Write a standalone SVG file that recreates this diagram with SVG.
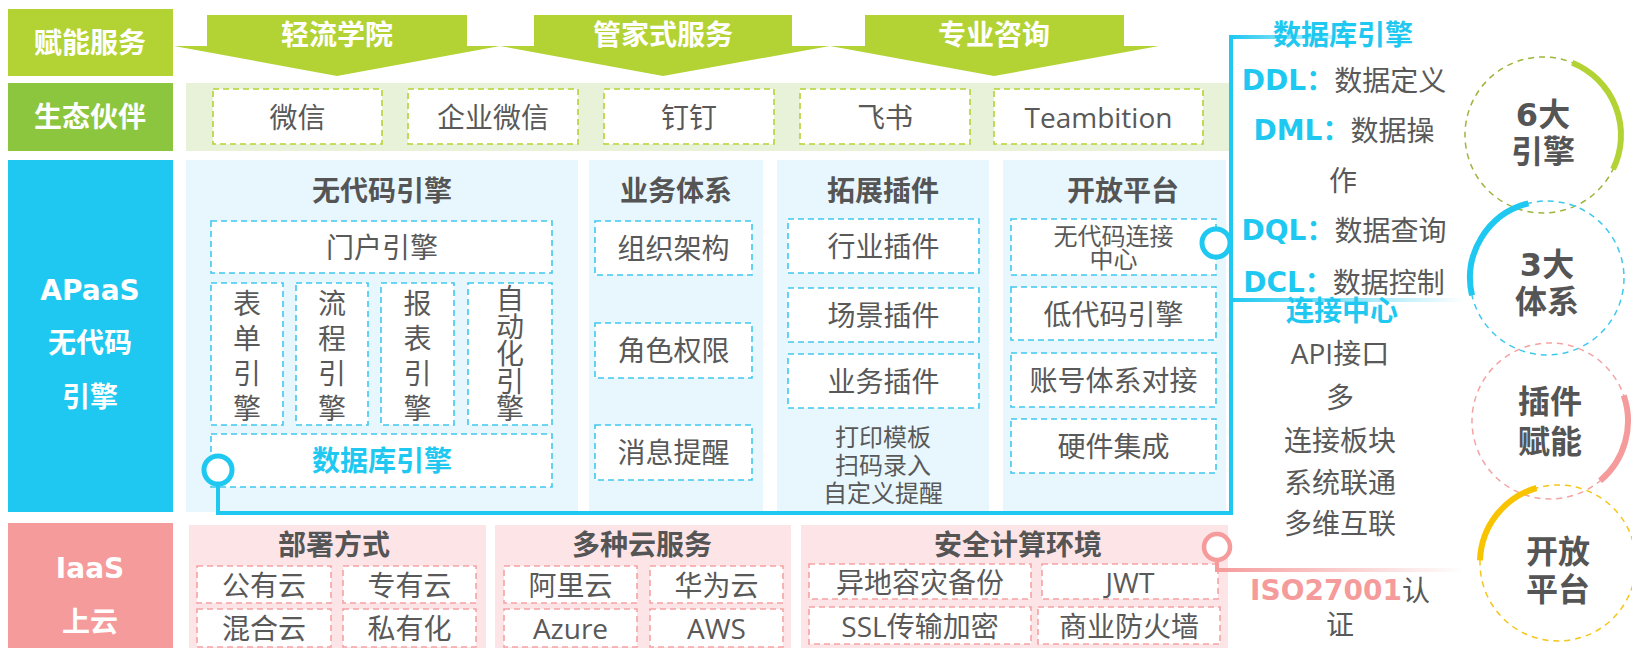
<svg xmlns="http://www.w3.org/2000/svg" width="1632" height="648" viewBox="0 0 1632 648">
<style>
text{dominant-baseline:central;text-anchor:middle}
.wl{font-family:"DejaVu Sans","Noto Sans CJK SC",sans-serif;font-weight:bold;font-size:28px;fill:#fff}
.ttl{font-family:"DejaVu Sans","Noto Sans CJK SC",sans-serif;font-weight:bold;font-size:28px;fill:#555}
.t{font-family:"Open Sans","Noto Sans CJK SC",sans-serif;font-size:28px;fill:#595959}
.s{font-family:"Open Sans","Noto Sans CJK SC",sans-serif;font-size:24px;fill:#595959}
.cb{font-family:"DejaVu Sans","Noto Sans CJK SC",sans-serif;font-weight:bold;font-size:28px;fill:#1ec8f0}
.pb{font-family:"DejaVu Sans","Noto Sans CJK SC",sans-serif;font-weight:bold;fill:#f59b9b}
.big{font-family:"DejaVu Sans","Noto Sans CJK SC",sans-serif;font-weight:bold;font-size:32px;fill:#555}
.gbox{fill:#fff;stroke:#b5d334;stroke-width:1.6;stroke-dasharray:6 4}
.bbox{fill:#fff;stroke:#3fc8ee;stroke-width:1.6;stroke-dasharray:6 4}
.rbox{fill:#fff;stroke:#f5a3a3;stroke-width:1.6;stroke-dasharray:6 4}
.lime{fill:#b3d334}
.cyanp{fill:#e8f7fd}
.pinkp{fill:#fde4e6}
.ring{fill:none;stroke-width:1.5;stroke-dasharray:6 5}
.arc{fill:none;stroke-width:6}
</style>
<defs>
<linearGradient id="gc1" gradientUnits="userSpaceOnUse" x1="1231" y1="0" x2="1360" y2="0"><stop offset="0" stop-color="#1ec8f0"/><stop offset="1" stop-color="#1ec8f0" stop-opacity="0"/></linearGradient>
<linearGradient id="gc2" gradientUnits="userSpaceOnUse" x1="1231" y1="0" x2="1465" y2="0"><stop offset="0" stop-color="#1ec8f0"/><stop offset="1" stop-color="#1ec8f0" stop-opacity="0"/></linearGradient>
<linearGradient id="gp" gradientUnits="userSpaceOnUse" x1="1217" y1="0" x2="1465" y2="0"><stop offset="0" stop-color="#f59b9b"/><stop offset="1" stop-color="#f59b9b" stop-opacity="0"/></linearGradient>
</defs>

<g id="row-fuwu">
<rect x="8" y="9" width="165" height="67" class="lime"/>
<text x="90" y="43" class="wl">赋能服务</text>
</g>
<g id="arrow-qingliu">
<polygon points="207,15 467,15 467,46 500,46 337,76 174,46 207,46" class="lime"/>
<text x="337" y="35" class="wl">轻流学院</text>
</g>
<g id="arrow-guanjia">
<polygon points="534,15 792,15 792,46 830,46 663,76 500,46 534,46" class="lime"/>
<text x="663" y="35" class="wl">管家式服务</text>
</g>
<g id="arrow-zixun">
<polygon points="865,15 1124,15 1124,46 1159,46 994,76 830,46 865,46" class="lime"/>
<text x="994" y="35" class="wl">专业咨询</text>
</g>

<g id="row-huoban">
<rect x="8" y="83" width="165" height="68" fill="#8cc63f"/>
<text x="90" y="117" class="wl">生态伙伴</text>
<rect x="186" y="83" width="1045" height="68" fill="#e8f2d9"/>
</g>
<g id="p-weixin"><rect x="213" y="89" width="169" height="55" class="gbox"/><text x="297.5" y="117" class="t">微信</text></g>
<g id="p-qywx"><rect x="408" y="89" width="170" height="55" class="gbox"/><text x="493" y="117" class="t">企业微信</text></g>
<g id="p-dingding"><rect x="604" y="89" width="170" height="55" class="gbox"/><text x="689" y="117" class="t">钉钉</text></g>
<g id="p-feishu"><rect x="800" y="89" width="170" height="55" class="gbox"/><text x="885" y="117" class="t">飞书</text></g>
<g id="p-teambition"><rect x="994" y="89" width="209" height="55" class="gbox"/><text x="1098.5" y="117" class="t">Teambition</text></g>

<g id="row-apaas">
<rect x="8" y="160" width="165" height="352" fill="#1fc8f0"/>
<text x="90" y="290" class="wl">APaaS</text>
<text x="90" y="343" class="wl">无代码</text>
<text x="90" y="397" class="wl">引擎</text>
</g>
<g id="panel-nocode">
<rect x="186" y="160" width="392" height="352" class="cyanp"/>
<text x="382" y="191" class="ttl">无代码引擎</text>
</g>
<g id="n-menhu"><rect x="211" y="221" width="341" height="52" class="bbox"/><text x="382" y="247" class="t">门户引擎</text></g>
<g id="n-biaodan"><rect x="211" y="283" width="72" height="142" class="bbox"/>
<text class="t"><tspan x="247" y="303">表</tspan><tspan x="247" y="338">单</tspan><tspan x="247" y="373">引</tspan><tspan x="247" y="408">擎</tspan></text></g>
<g id="n-liucheng"><rect x="296" y="283" width="72" height="142" class="bbox"/>
<text class="t"><tspan x="332" y="303">流</tspan><tspan x="332" y="338">程</tspan><tspan x="332" y="373">引</tspan><tspan x="332" y="408">擎</tspan></text></g>
<g id="n-baobiao"><rect x="381" y="283" width="73" height="142" class="bbox"/>
<text class="t"><tspan x="417.5" y="303">报</tspan><tspan x="417.5" y="338">表</tspan><tspan x="417.5" y="373">引</tspan><tspan x="417.5" y="408">擎</tspan></text></g>
<g id="n-zidonghua"><rect x="468" y="283" width="84" height="142" class="bbox"/>
<text class="t" font-size="25"><tspan x="510" y="298">自</tspan><tspan x="510" y="325.5">动</tspan><tspan x="510" y="353">化</tspan><tspan x="510" y="380.5">引</tspan><tspan x="510" y="408">擎</tspan></text></g>
<g id="n-shujuku"><rect x="211" y="434" width="341" height="53" class="bbox"/><text x="382" y="461" class="cb">数据库引擎</text></g>

<g id="panel-yewu">
<rect x="589" y="160" width="174" height="352" class="cyanp"/>
<text x="676" y="191" class="ttl">业务体系</text>
</g>
<g id="n-zuzhi"><rect x="595" y="221" width="157" height="54" class="bbox"/><text x="673.5" y="248" class="t">组织架构</text></g>
<g id="n-juese"><rect x="595" y="323" width="157" height="55" class="bbox"/><text x="673.5" y="350" class="t">角色权限</text></g>
<g id="n-xiaoxi"><rect x="595" y="425" width="157" height="55" class="bbox"/><text x="673.5" y="452" class="t">消息提醒</text></g>

<g id="panel-tuozhan">
<rect x="777" y="160" width="212" height="352" class="cyanp"/>
<text x="883" y="191" class="ttl">拓展插件</text>
<text class="s"><tspan x="883" y="436">打印模板</tspan><tspan x="883" y="464">扫码录入</tspan><tspan x="883" y="492">自定义提醒</tspan></text>
</g>
<g id="n-hangye"><rect x="788" y="219" width="191" height="54" class="bbox"/><text x="883.5" y="246" class="t">行业插件</text></g>
<g id="n-changjing"><rect x="788" y="288" width="191" height="54" class="bbox"/><text x="883.5" y="315" class="t">场景插件</text></g>
<g id="n-yewuchajian"><rect x="788" y="354" width="191" height="54" class="bbox"/><text x="883.5" y="381" class="t">业务插件</text></g>

<g id="panel-kaifang">
<rect x="1003" y="160" width="223" height="352" class="cyanp"/>
<text x="1123" y="191" class="ttl">开放平台</text>
</g>
<g id="n-lianjie"><rect x="1011" y="219" width="205" height="56" class="bbox"/><text class="s" font-size="22"><tspan x="1113.5" y="235">无代码连接</tspan><tspan x="1113.5" y="258">中心</tspan></text></g>
<g id="n-didaima"><rect x="1011" y="287" width="205" height="53" class="bbox"/><text x="1113.5" y="313.5" class="t">低代码引擎</text></g>
<g id="n-zhanghao"><rect x="1011" y="353" width="205" height="54" class="bbox"/><text x="1113.5" y="380" class="t">账号体系对接</text></g>
<g id="n-yingjian"><rect x="1011" y="419" width="205" height="54" class="bbox"/><text x="1113.5" y="446" class="t">硬件集成</text></g>

<g id="row-iaas">
<rect x="8" y="523" width="165" height="125" fill="#f59b9b"/>
<text x="90" y="568" class="wl">IaaS</text>
<text x="90" y="622" class="wl">上云</text>
</g>
<g id="panel-bushu">
<rect x="189" y="525" width="297" height="123" class="pinkp"/>
<text x="334" y="545" class="ttl">部署方式</text>
</g>
<g id="n-gongyou"><rect x="197" y="566" width="134" height="37" class="rbox"/><text x="264" y="585" class="t">公有云</text></g>
<g id="n-zhuanyou"><rect x="343" y="566" width="133" height="37" class="rbox"/><text x="409.5" y="585" class="t">专有云</text></g>
<g id="n-hunhe"><rect x="197" y="609" width="134" height="38" class="rbox"/><text x="264" y="628" class="t">混合云</text></g>
<g id="n-siyou"><rect x="343" y="609" width="133" height="38" class="rbox"/><text x="409.5" y="628" class="t">私有化</text></g>

<g id="panel-yun">
<rect x="495" y="525" width="296" height="123" class="pinkp"/>
<text x="642" y="545" class="ttl">多种云服务</text>
</g>
<g id="n-aliyun"><rect x="504" y="566" width="133" height="37" class="rbox"/><text x="570.5" y="585" class="t">阿里云</text></g>
<g id="n-huawei"><rect x="650" y="566" width="133" height="37" class="rbox"/><text x="716.5" y="585" class="t">华为云</text></g>
<g id="n-azure"><rect x="504" y="609" width="133" height="38" class="rbox"/><text x="570.5" y="628" class="t">Azure</text></g>
<g id="n-aws"><rect x="650" y="609" width="133" height="38" class="rbox"/><text x="716.5" y="628" class="t">AWS</text></g>

<g id="panel-anquan">
<rect x="801" y="525" width="427" height="123" class="pinkp"/>
<text x="1018" y="545" class="ttl">安全计算环境</text>
</g>
<g id="n-yidi"><rect x="809" y="564" width="222" height="35" class="rbox"/><text x="920" y="582" class="t">异地容灾备份</text></g>
<g id="n-jwt"><rect x="1042" y="564" width="176" height="35" class="rbox"/><text x="1130" y="582" class="t">JWT</text></g>
<g id="n-ssl"><rect x="809" y="607" width="222" height="37" class="rbox"/><text x="920" y="626" class="t">SSL传输加密</text></g>
<g id="n-fanghuo"><rect x="1038" y="607" width="182" height="37" class="rbox"/><text x="1129" y="626" class="t">商业防火墙</text></g>

<g id="connectors">
<path d="M218,484 V513 H1231 V37" fill="none" stroke="#1ec8f0" stroke-width="4"/>
<path d="M1229,37 H1360" fill="none" stroke="url(#gc1)" stroke-width="4"/>
<path d="M1229,300 H1465" fill="none" stroke="url(#gc2)" stroke-width="4"/>
<circle cx="218" cy="470" r="14" fill="#fff" stroke="#1ec8f0" stroke-width="5"/>
<circle cx="1216" cy="243" r="14" fill="#fff" stroke="#1ec8f0" stroke-width="5"/>
<path d="M1217,559 V570 H1465" fill="none" stroke="url(#gp)" stroke-width="4"/>
<circle cx="1217" cy="547" r="13" fill="#fff" stroke="#f59b9b" stroke-width="4.5"/>
</g>

<g id="info-db">
<text x="1343" y="35" class="cb">数据库引擎</text>
<text x="1344" y="80" class="t"><tspan class="cb">DDL：</tspan>数据定义</text>
<text x="1344" y="130" class="t"><tspan class="cb">DML：</tspan>数据操</text>
<text x="1343" y="180" class="t">作</text>
<text x="1344" y="230" class="t"><tspan class="cb">DQL：</tspan>数据查询</text>
<text x="1344" y="282" class="t"><tspan class="cb">DCL：</tspan>数据控制</text>
</g>
<g id="info-conn">
<text x="1342" y="311" class="cb">连接中心</text>
<text x="1340" y="353" class="t">API接口</text>
<text x="1340" y="397" class="t">多</text>
<text x="1340" y="440" class="t">连接板块</text>
<text x="1340" y="482" class="t">系统联通</text>
<text x="1340" y="523" class="t">多维互联</text>
</g>
<g id="info-iso">
<text x="1340" y="590" class="t"><tspan class="pb" font-size="28">ISO27001</tspan>认</text>
<text x="1340" y="624" class="t">证</text>
</g>

<g id="c-engine">
<circle cx="1543" cy="135" r="78" class="ring" stroke="#9cb53b"/>
<path d="M1572.2,62.7 A78,78 0 0 1 1613.1,169.2" class="arc" stroke="#b3d334"/>
<text x="1543" y="115" class="big">6大</text>
<text x="1543" y="152" class="big">引擎</text>
</g>
<g id="c-system">
<circle cx="1547" cy="278" r="77" class="ring" stroke="#3fc8ee"/>
<path d="M1472,295.3 A77,77 0 0 1 1528.4,203.3" class="arc" stroke="#1ec8f0"/>
<text x="1547" y="265" class="big">3大</text>
<text x="1547" y="302" class="big">体系</text>
</g>
<g id="c-plugin">
<circle cx="1550" cy="421" r="78" class="ring" stroke="#f4a3a3"/>
<path d="M1623.7,395.6 A78,78 0 0 1 1600.1,480.8" class="arc" stroke="#f59b9b"/>
<text x="1550" y="402" class="big">插件</text>
<text x="1550" y="442" class="big">赋能</text>
</g>
<g id="c-open">
<circle cx="1558" cy="563" r="78" class="ring" stroke="#f5c518"/>
<path d="M1480,560.3 A78,78 0 0 1 1536.5,488" class="arc" stroke="#f8c400"/>
<text x="1558" y="552" class="big">开放</text>
<text x="1558" y="590" class="big">平台</text>
</g>
</svg>
